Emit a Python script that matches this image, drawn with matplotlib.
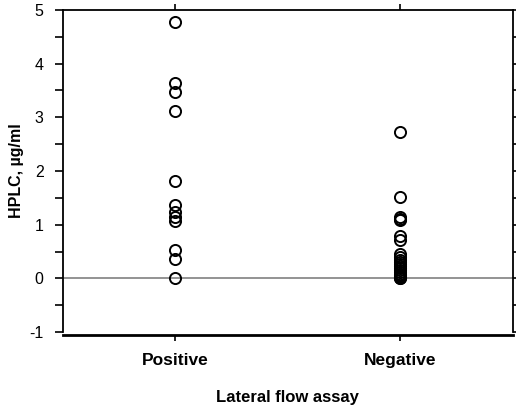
import numpy as np
import matplotlib
matplotlib.use("Agg")
from matplotlib import pyplot as plt
from matplotlib.ticker import MultipleLocator

plt.rcParams['font.family'] = ['Liberation Sans', 'DejaVu Sans']
plt.rcParams['axes.unicode_minus'] = False

categories = ["Positive", "Negative"]
positive = [4.78, 3.63, 3.47, 3.12, 1.82, 1.36, 1.24, 1.14, 1.06, 0.53, 0.37, 0.01]
negative = [2.72, 1.52, 1.15, 1.11, 1.08, 0.79, 0.71, 0.45, 0.4, 0.35, 0.31,
            0.27, 0.23, 0.19, 0.15, 0.12, 0.09, 0.06, 0.04, 0.02, 0.0, 0.0]

fig = plt.figure(figsize=(5.16, 4.11), dpi=100)
ax = fig.add_axes([0.122, 0.192, 0.872, 0.784])

# spine position first: it resets the tick objects
for s in ['left', 'right', 'top']:
    ax.spines[s].set_linewidth(1.3)
ax.spines['bottom'].set_linewidth(2)
ax.spines['bottom'].set_position(('outward', 2))

ax.axhline(0, color='#808080', lw=1.2, zorder=1)
for i, vals in enumerate([positive, negative]):
    ax.plot([i + 1] * len(vals), vals, 'o', ms=8, mfc='none', mec='black',
            mew=1.4, clip_on=False, zorder=3)

ax.set_xlim(0.5, 2.5)
ax.set_ylim(-1, 5)
ax.yaxis.set_major_locator(MultipleLocator(1))
ax.yaxis.set_minor_locator(MultipleLocator(0.5))
ax.tick_params(axis='y', which='both', direction='out', length=6, width=1.2,
               labelsize=11.5, pad=8, right=True)
ax.tick_params(axis='x', direction='out', length=4, width=1.2, top=True, pad=9)
ax.set_xticks([1, 2])
ax.set_xticklabels(categories, fontweight='bold', fontsize=12.5)

ax.set_ylabel("HPLC, µg/ml", fontweight='bold', fontsize=11.5, labelpad=4)
ax.set_xlabel("Lateral flow assay", fontweight='bold', fontsize=12, labelpad=16)

fig.savefig("out.png", dpi=100)
